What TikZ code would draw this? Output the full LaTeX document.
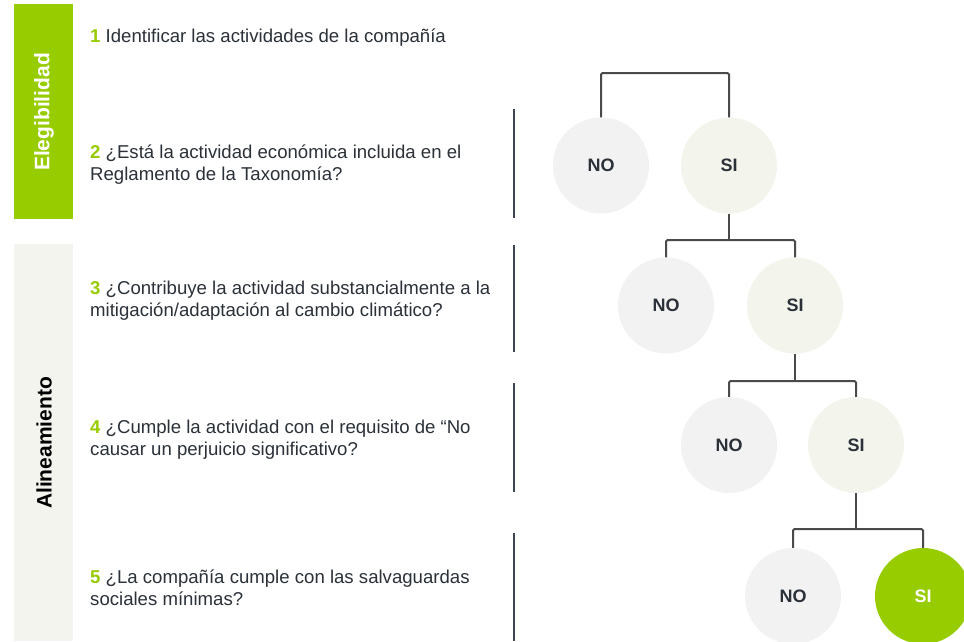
\documentclass[tikz,border=0pt]{standalone}
\usepackage{fontspec}
\setmainfont{Liberation Sans}
\definecolor{brand}{HTML}{97CC00}
\definecolor{lightbar}{HTML}{F3F4EE}
\definecolor{nofill}{HTML}{F2F2F2}
\definecolor{sifill}{HTML}{F3F4EC}
\definecolor{txt}{HTML}{2B3139}
\definecolor{conn}{HTML}{4A4A4A}
\definecolor{sep}{HTML}{3B4652}
\tikzset{
  question/.style={anchor=base west, inner sep=0pt, align=left, text=txt,
    font=\fontsize{18.6}{22}\selectfont},
  nocirc/.style={circle, fill=nofill, minimum size=96pt, inner sep=0pt,
    text=txt, font=\fontsize{18}{20}\selectfont\bfseries},
  sicirc/.style={circle, fill=sifill, minimum size=96pt, inner sep=0pt,
    text=txt, font=\fontsize{18}{20}\selectfont\bfseries},
  okcirc/.style={circle, fill=brand, minimum size=96pt, inner sep=0pt,
    text=white, font=\fontsize{18}{20}\selectfont\bfseries},
  link/.style={draw=conn, line width=2pt, rounded corners=1.5pt},
  seprule/.style={draw=sep, line width=1.3pt},
  barlabel/.style={rotate=90, font=\fontsize{21}{24}\selectfont\bfseries}
}
\newcommand{\qn}[1]{\textcolor{brand}{\bfseries #1}}
\begin{document}
\begin{tikzpicture}[x=1pt,y=-1pt]
\path[use as bounding box] (0,0) rectangle (964,641);
\clip (0,0) rectangle (964,641);
\fill[white] (0,0) rectangle (964,641);
% side bars
\fill[brand] (14,4) rectangle (73,219);
\fill[lightbar] (14,244) rectangle (73,641);
\node[barlabel, text=white] (lab1) at (44,112) {Elegibilidad};
\node[barlabel, text=black] (lab2) at (44,443) {Alineamiento};
% questions (base anchor = baseline of the last line)
\node[question] (q1) at (90,42.7) {\qn{1} Identificar las actividades de la compañía};
\node[question] (q2) at (90,180.5) {\qn{2} ¿Está la actividad económica incluida en el\\Reglamento de la Taxonomía?};
\node[question] (q3) at (90,316) {\qn{3} ¿Contribuye la actividad substancialmente a la\\mitigación/adaptación al cambio climático?};
\node[question] (q4) at (90,455) {\qn{4} ¿Cumple la actividad con el requisito de “No\\causar un perjuicio significativo?};
\node[question] (q5) at (90,605) {\qn{5} ¿La compañía cumple con las salvaguardas\\sociales mínimas?};
% separators
\draw[seprule] (514,109) -- (514,218);
\draw[seprule] (514,245) -- (514,352);
\draw[seprule] (514,383) -- (514,492);
\draw[seprule] (514,533) -- (514,641);
% circles
\node[nocirc] (no1) at (601,165.5) {NO};
\node[sicirc] (si1) at (729,165.5) {SI};
\node[nocirc] (no2) at (666,305.5) {NO};
\node[sicirc] (si2) at (795,305.5) {SI};
\node[nocirc] (no3) at (729,445) {NO};
\node[sicirc] (si3) at (856,445) {SI};
\node[nocirc] (no4) at (793,596) {NO};
\node[okcirc] (si4) at (923,596) {SI};
% connectors
\coordinate (t1) at (665,73);
\draw[link] (no1.north) |- (t1) -| (si1.north);
\coordinate (t2) at (si1.south |- 0,240);
\draw[link] (si1.south) -- (t2);
\draw[link] (no2.north) |- (t2) -| (si2.north);
\coordinate (t3) at (si2.south |- 0,381);
\draw[link] (si2.south) -- (t3);
\draw[link] (no3.north) |- (t3) -| (si3.north);
\coordinate (t4) at (si3.south |- 0,529);
\draw[link] (si3.south) -- (t4);
\draw[link] (no4.north) |- (t4) -| (si4.north);
\end{tikzpicture}
\end{document}
